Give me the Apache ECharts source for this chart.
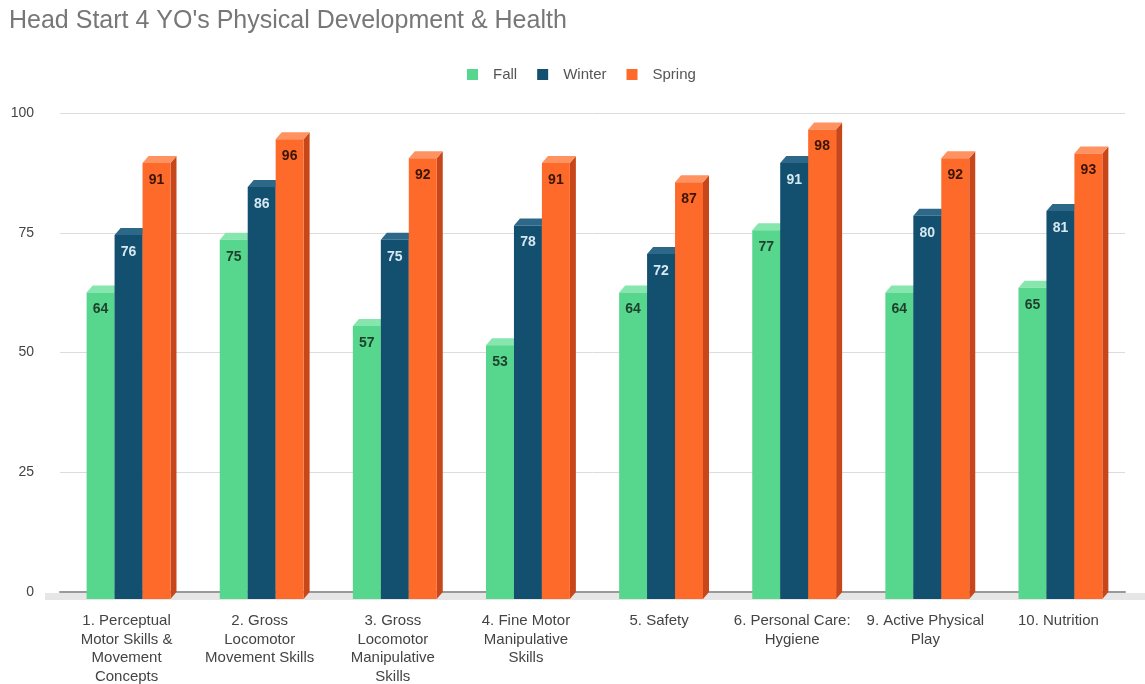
<!DOCTYPE html>
<html><head><meta charset="utf-8">
<script src="https://cdn.jsdelivr.net/npm/echarts@6/dist/echarts.min.js"></script>
<style>html,body{margin:0;padding:0;background:#fff}#c{width:1145px;height:684px}</style>
</head><body><div id="c"></div>
<script>
var categories = [
  "1. Perceptual\nMotor Skills &\nMovement\nConcepts",
  "2. Gross\nLocomotor\nMovement Skills",
  "3. Gross\nLocomotor\nManipulative\nSkills",
  "4. Fine Motor\nManipulative\nSkills",
  "5. Safety",
  "6. Personal Care:\nHygiene",
  "9. Active Physical\nPlay",
  "10. Nutrition"
];
var fall   = [64, 75, 57, 53, 64, 77, 64, 65];
var winter = [76, 86, 75, 78, 72, 91, 80, 81];
var spring = [91, 96, 92, 91, 87, 98, 92, 93];
var seriesNames = ["Fall", "Winter", "Spring"];
var yTicks = [0, 25, 50, 75, 100];

var styles = [
  {front: "#57d68d", top: "#86e6ad", side: "#3dae6c", label: "#1f3f2c"},
  {front: "#134f6f", top: "#2d6889", side: "#0b3850", label: "#d6e8f2"},
  {front: "#fd6a2a", top: "#ff9261", side: "#c8471a", label: "#3a1506"}
];

function makeRender(si) {
  var st = styles[si];
  return function (params, api) {
    var cat = api.value(0), v = api.value(1);
    var p = api.coord([cat, v]);
    var p0 = api.coord([cat, 0]);
    var band = api.size([1, 0])[0];
    var w = band * 0.21;
    var dx = 6, dy = 7;
    var fx0 = p[0] - 1.5 * w + si * w + 2;
    var fx1 = fx0 + w;
    var ft = p[1] + dy, fb = p0[1] + dy;
    return {
      type: "group",
      children: [
        {type: "polygon", shape: {points: [[fx1, ft], [fx1 + dx, ft - dy], [fx1 + dx, fb - dy], [fx1, fb]]}, style: {fill: st.side}},
        {type: "polygon", shape: {points: [[fx0, ft], [fx0 + dx, ft - dy], [fx1 + dx, ft - dy], [fx1, ft]]}, style: {fill: st.top}},
        {type: "rect", shape: {x: fx0, y: ft, width: w, height: fb - ft}, style: {fill: st.front}},
        {type: "text", style: {x: (fx0 + fx1) / 2, y: ft + 17, text: String(v), fill: st.label,
          font: "bold 14px 'Liberation Sans', Arial, sans-serif", align: "center", verticalAlign: "middle"}}
      ]
    };
  };
}

function mkData(arr) { return arr.map(function (v, i) { return [i, v]; }); }
var dataSets = [fall, winter, spring];

var chart = echarts.init(document.getElementById("c"));
chart.setOption({
  animation: false,
  textStyle: {fontFamily: "'Liberation Sans', Arial, sans-serif"},
  title: {text: "Head Start 4 YO's Physical Development & Health", left: 4, top: 4,
    textStyle: {fontSize: 25, fontWeight: "normal", color: "#777"}},
  legend: {top: 62, left: 462, itemWidth: 11, itemHeight: 11, itemGap: 20, icon: "rect",
    data: seriesNames,
    textStyle: {fontSize: 15, color: "#555", padding: [0, 0, 0, 10]}},
  graphic: [{type: "rect", z: -10, shape: {x: 45, y: 593, width: 1100, height: 7}, style: {fill: "#e6e6e6"}}],
  grid: {left: 60, right: 20, top: 113, bottom: 92, outerBoundsMode: "none", containLabel: false},
  xAxis: {type: "category", data: categories,
    axisLine: {lineStyle: {color: "#999", width: 2}}, axisTick: {show: false},
    axisLabel: {interval: 0, margin: 20, fontSize: 15, color: "#444", lineHeight: 18.5, align: "center", verticalAlign: "top"}},
  yAxis: {type: "value", min: yTicks[0], max: yTicks[yTicks.length - 1], interval: 25,
    axisLine: {show: false}, axisTick: {show: false},
    axisLabel: {fontSize: 14, color: "#444", margin: 26},
    splitLine: {lineStyle: {color: "#dcdcdc", width: 1}}},
  series: seriesNames.map(function (n, si) {
    return {name: n, type: "custom", renderItem: makeRender(si), encode: {x: 0, y: 1},
      itemStyle: {color: styles[si].front}, data: mkData(dataSets[si])};
  })
});
</script></body></html>
